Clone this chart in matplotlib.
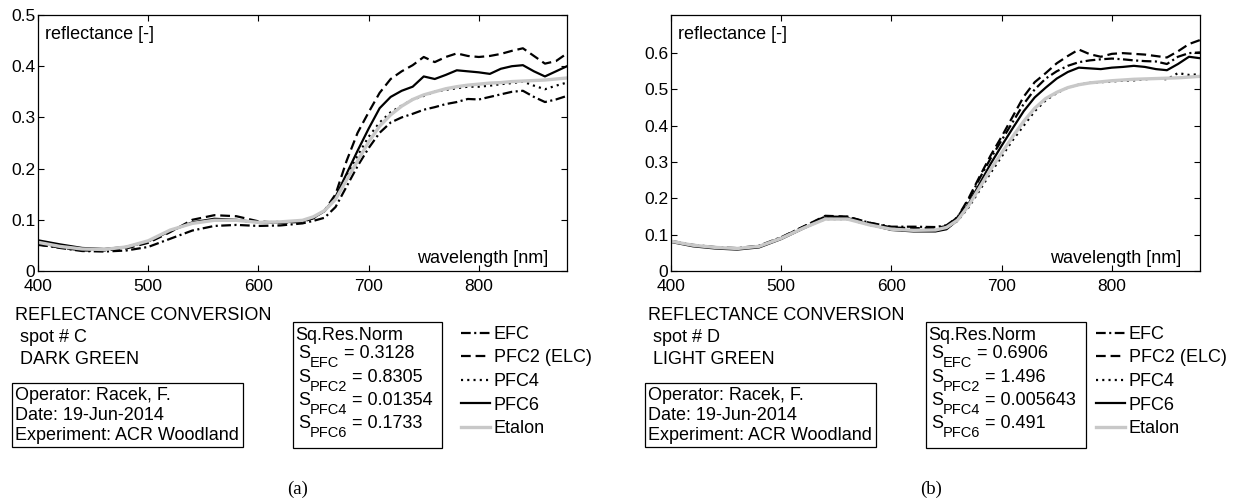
import matplotlib
matplotlib.use("Agg")
import matplotlib.pyplot as plt
from matplotlib.patches import Rectangle

plt.rcParams["font.family"] = ["Liberation Sans", "DejaVu Sans"]
plt.rcParams["lines.scale_dashes"] = False

# wavelength grid [nm]
wl = [400, 420, 440, 460, 480, 500, 520, 540, 560, 580, 600, 620, 640, 650, 660, 670, 680, 690, 700,
      710, 720, 730, 740, 750, 760, 770, 780, 790, 800, 810, 820, 830, 840, 850, 860, 870, 880]

# (a) spot C - dark green
a_efc = [.052, .045, .039, .038, .040, .047, .063, .079, .088, .090, .088, .089, .093, .098, .104, .125, .165, .205, .240,
         .270, .290, .300, .307, .315, .320, .326, .330, .336, .335, .340, .345, .350, .352, .340, .330, .335, .342]
a_pfc2 = [.051, .046, .040, .040, .044, .055, .076, .100, .109, .107, .097, .094, .096, .103, .118, .150, .215, .270, .310,
          .348, .375, .390, .402, .418, .408, .418, .425, .420, .418, .420, .424, .430, .435, .420, .405, .410, .425]
a_pfc4 = [.055, .047, .042, .042, .046, .058, .079, .094, .100, .099, .095, .096, .098, .105, .117, .142, .185, .225, .262,
          .290, .310, .323, .335, .342, .350, .354, .357, .360, .360, .362, .365, .367, .370, .362, .355, .362, .368]
a_pfc6 = [.060, .052, .045, .043, .047, .058, .078, .095, .102, .100, .095, .095, .097, .104, .117, .145, .190, .235, .278,
          .318, .340, .352, .360, .380, .375, .383, .392, .390, .388, .385, .395, .400, .402, .390, .380, .390, .400]
a_etalon = [.056, .048, .043, .042, .047, .059, .080, .093, .099, .099, .095, .096, .099, .106, .118, .140, .178, .215, .252,
            .283, .305, .322, .335, .344, .350, .356, .360, .363, .365, .367, .368, .370, .371, .372, .373, .375, .377]

# (b) spot D - light green
b_efc = [.083, .072, .066, .063, .070, .093, .122, .150, .149, .133, .122, .122, .121, .126, .148, .195, .255, .310, .360,
         .410, .460, .500, .530, .550, .565, .575, .580, .583, .585, .583, .580, .578, .577, .570, .590, .600, .602]
b_pfc2 = [.082, .070, .064, .061, .068, .092, .122, .152, .150, .133, .120, .118, .118, .124, .148, .200, .260, .318, .370,
          .425, .480, .520, .545, .572, .592, .610, .597, .590, .598, .600, .598, .596, .592, .588, .605, .625, .636]
b_pfc4 = [.081, .070, .064, .061, .067, .090, .118, .143, .143, .127, .114, .111, .112, .118, .138, .175, .222, .270, .315,
          .360, .400, .440, .470, .490, .505, .513, .518, .520, .522, .524, .525, .528, .530, .528, .545, .540, .542]
b_pfc6 = [.080, .068, .062, .059, .065, .088, .117, .145, .146, .128, .113, .109, .109, .115, .140, .185, .240, .295, .345,
          .393, .440, .478, .505, .530, .548, .560, .558, .556, .560, .562, .565, .562, .556, .553, .570, .590, .586]
b_etalon = [.082, .071, .065, .062, .068, .090, .118, .143, .143, .127, .115, .112, .113, .120, .140, .180, .230, .280, .325,
            .370, .412, .448, .475, .492, .505, .513, .518, .521, .524, .526, .528, .529, .530, .531, .532, .534, .536]

labels = ["EFC", "PFC2 (ELC)", "PFC4", "PFC6", "Etalon"]
subs = ["EFC", "PFC2", "PFC4", "PFC6"]
xticks = [400, 500, 600, 700, 800]

panels = [
    dict(series=[a_efc, a_pfc2, a_pfc4, a_pfc6, a_etalon], ymax=0.5, yticks=[0, .1, .2, .3, .4, .5],
         spot=" spot # C", name=" DARK GREEN", tag="(a)",
         sq=["0.3128", "0.8305", "0.01354", "0.1733"], sqw=149, dx=0, lx=461),
    dict(series=[b_efc, b_pfc2, b_pfc4, b_pfc6, b_etalon], ymax=0.705, yticks=[0, .1, .2, .3, .4, .5, .6],
         spot=" spot # D", name=" LIGHT GREEN", tag="(b)",
         sq=["0.6906", "1.496", "0.005643", "0.491"], sqw=160, dx=633, lx=1096),
]

styles = [
    dict(color="k", lw=1.6, ls=(0, (7, 2.5, 1.5, 2.5))),
    dict(color="k", lw=1.6, ls=(0, (7, 3.5))),
    dict(color="k", lw=1.6, ls=(0, (1.5, 3))),
    dict(color="k", lw=1.6, ls="-"),
    dict(color="#c8c8c8", lw=2.4, ls="-"),
]

W, H = 1233, 501
fig = plt.figure(figsize=(W / 100, H / 100), dpi=100)
renderer = fig.canvas.get_renderer()


def fx(x):
    return x / W


def fy(y):
    return 1 - y / H


fs = 13
for p in panels:
    dx = p["dx"]
    ax = fig.add_axes([fx(38 + dx), fy(271), 529 / W, 256 / H])
    lines = []
    for s, st, lab in zip(p["series"], styles, labels):
        ln, = ax.plot(wl, s, label=lab, **st)
        lines.append(ln)
    ax.set_xlim(400, 880)
    ax.set_ylim(0, p["ymax"])
    ax.set_xticks(xticks)
    ax.set_yticks(p["yticks"])
    ax.set_yticklabels(["0"] + ["%.1f" % v for v in p["yticks"][1:]])
    ax.tick_params(direction="in", length=4, width=0.8, top=True, right=True, labelsize=12.5)
    ax.tick_params(axis="x", pad=6)
    ax.tick_params(axis="y", pad=2)
    for sp in ax.spines.values():
        sp.set_linewidth(0.9)
    ax.text(7 / 529, 1 - 11 / 256, "reflectance [-]", transform=ax.transAxes, ha="left", va="top", fontsize=fs)
    ax.text(1 - 19 / 529, 4 / 256, "wavelength [nm]", transform=ax.transAxes, ha="right", va="bottom", fontsize=fs)

    # header text
    fig.text(fx(15 + dx), fy(316), "REFLECTANCE CONVERSION", ha="left", va="center", fontsize=fs)
    fig.text(fx(15 + dx), fy(337), p["spot"], ha="left", va="center", fontsize=fs)
    fig.text(fx(15 + dx), fy(359), p["name"], ha="left", va="center", fontsize=fs)

    # operator box
    fig.add_artist(Rectangle((fx(12 + dx), fy(447)), 231 / W, 64 / H, transform=fig.transFigure,
                             fill=False, ec="k", lw=0.9))
    for yy, t in zip([396, 415, 435], ["Operator: Racek, F.", "Date: 19-Jun-2014", "Experiment: ACR Woodland"]):
        fig.text(fx(15 + dx), fy(yy), t, ha="left", va="center", fontsize=fs)

    # residual norm box
    x0 = 293 + dx
    fig.add_artist(Rectangle((fx(x0), fy(448)), p["sqw"] / W, 126 / H, transform=fig.transFigure,
                             fill=False, ec="k", lw=0.9))
    fig.text(fx(x0 + 2), fy(335), "Sq.Res.Norm", ha="left", va="center", fontsize=fs)
    for yb, sub, val in zip([358, 382, 405, 428], subs, p["sq"]):
        t = fig.text(fx(x0 + 5), fy(yb), "S", ha="left", va="baseline", fontsize=fs)
        xs = t.get_window_extent(renderer).x1
        t2 = fig.text(xs / W, fy(yb + 9), sub, ha="left", va="baseline", fontsize=10.5)
        xs = t2.get_window_extent(renderer).x1
        fig.text(xs / W, fy(yb), " = " + val, ha="left", va="baseline", fontsize=fs)

    # legend
    fig.legend(handles=lines, loc="upper left", bbox_to_anchor=(fx(p["lx"]), fy(326)), frameon=False,
               fontsize=fs, handlelength=1.6, handletextpad=0.22, labelspacing=0.36,
               borderpad=0, borderaxespad=0)

    fig.text(fx(298 + dx), fy(489), p["tag"], ha="center", va="center", fontsize=13.5,
             family=["Liberation Serif", "DejaVu Serif"])

fig.savefig("out.png", dpi=100)
